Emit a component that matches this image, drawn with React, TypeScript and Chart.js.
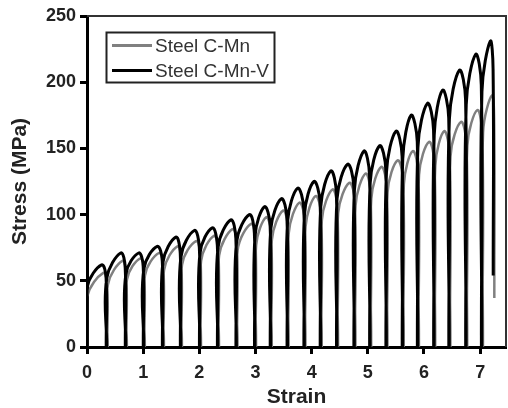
import React, { useEffect, useRef } from "react";
import { Chart, registerables } from "chart.js";

Chart.register(...registerables);

const seriesLabels = ["Steel C-Mn", "Steel C-Mn-V"];
const xTickValues = [0, 1, 2, 3, 4, 5, 6, 7];
const yTickValues = [0, 50, 100, 150, 200, 250];

// Steel C-Mn-V (black)
const blackUnload = [0.34, 0.68, 1.0, 1.34, 1.66, 2.0, 2.32, 2.65, 2.98, 3.26, 3.56, 3.86, 4.15, 4.44, 4.75, 5.03, 5.32, 5.61, 5.88, 6.17, 6.44, 6.74, 7.02, 7.23];
const blackPeakStrain = [0.26, 0.6, 0.92, 1.25, 1.58, 1.91, 2.23, 2.56, 2.89, 3.16, 3.46, 3.75, 4.04, 4.34, 4.64, 4.93, 5.21, 5.5, 5.77, 6.06, 6.33, 6.63, 6.92, 7.18];
const blackPeak = [62, 71, 71, 76, 83, 88, 90, 96, 100, 106, 112, 120, 125, 133, 138, 148, 152, 163, 175, 184, 194, 209, 221, 231];
const blackKnee = [45, 52, 55, 59, 64, 68, 71, 75, 79, 84, 89, 95, 100, 106, 112, 119, 124, 132, 142, 151, 160, 172, 183, 193];
const blackShoulder = [52, 60, 61, 65, 71, 75, 77, 82, 86, 92, 97, 104, 109, 116, 121, 130, 134, 144, 155, 164, 173, 187, 198, 210];
const blackEnd = 54;

// Steel C-Mn (gray)
const grayUnload = [0.36, 0.7, 1.02, 1.36, 1.68, 2.02, 2.34, 2.67, 3.0, 3.28, 3.58, 3.88, 4.17, 4.46, 4.77, 5.05, 5.34, 5.63, 5.9, 6.19, 6.46, 6.76, 7.04, 7.25];
const grayPeakStrain = [0.29, 0.63, 0.95, 1.28, 1.61, 1.94, 2.26, 2.59, 2.92, 3.19, 3.49, 3.78, 4.07, 4.37, 4.67, 4.96, 5.24, 5.53, 5.8, 6.09, 6.36, 6.66, 6.95, 7.21];
const grayPeak = [56, 65, 67, 71, 76, 80, 84, 89, 93, 98, 103, 109, 114, 119, 124, 131, 136, 141, 148, 155, 163, 170, 179, 190];
const grayKnee = [38, 47, 51, 54, 58, 62, 65, 69, 73, 77, 81, 86, 91, 96, 101, 107, 112, 117, 123, 130, 137, 144, 152, 162];
const grayShoulder = [47, 55, 57, 61, 65, 69, 72, 77, 80, 85, 89, 94, 99, 104, 109, 115, 119, 124, 130, 136, 143, 150, 158, 168];
const grayEnd = 37;

function buildCycles(
  unload: number[],
  peakStrain: number[],
  peak: number[],
  knee: number[],
  shoulder: number[],
  end: number
) {
  const pts: { x: number; y: number }[] = [];
  const n = peak.length;
  for (let i = 0; i < n; i++) {
    const start = i === 0 ? 0 : unload[i - 1] + 0.01;
    pts.push({ x: start, y: 0 });
    pts.push({ x: start + 0.002, y: knee[i] });
    pts.push({ x: peakStrain[i], y: peak[i] });
    pts.push({ x: unload[i], y: shoulder[i] });
    pts.push({ x: unload[i] + 0.002, y: i === n - 1 ? end : 0 });
  }
  return pts;
}

const FONT = "'Liberation Sans', Arial, Helvetica, sans-serif";

const decorPlugin = {
  id: "decor",
  afterDraw(chart: any) {
    const { ctx, chartArea: a } = chart;
    ctx.save();
    // top & right frame
    ctx.strokeStyle = "#333";
    ctx.lineWidth = 2;
    ctx.beginPath();
    ctx.moveTo(a.left, a.top);
    ctx.lineTo(a.right, a.top);
    ctx.lineTo(a.right, a.bottom);
    ctx.stroke();

    // legend box
    const bx = 106.5, by = 32.5, bw = 168, bh = 50;
    ctx.strokeStyle = "#222";
    ctx.lineWidth = 2;
    ctx.strokeRect(bx, by, bw, bh);
    const ds = chart.data.datasets;
    const rows = [45.5, 70.5];
    ds.forEach((d: any, i: number) => {
      ctx.strokeStyle = d.borderColor;
      ctx.lineWidth = 3;
      ctx.beginPath();
      ctx.moveTo(112, rows[i]);
      ctx.lineTo(152, rows[i]);
      ctx.stroke();
      ctx.fillStyle = "#333";
      ctx.font = `19px ${FONT}`;
      ctx.textBaseline = "middle";
      ctx.textAlign = "left";
      ctx.fillText(d.label, 155, rows[i] + 1);
    });
    ctx.restore();
  },
};

export default function App() {
  const ref = useRef<HTMLCanvasElement>(null);
  useEffect(() => {
    if (!ref.current) return;
    const chart = new Chart(ref.current, {
      type: "line",
      data: {
        datasets: [
          {
            label: seriesLabels[0],
            data: buildCycles(grayUnload, grayPeakStrain, grayPeak, grayKnee, grayShoulder, grayEnd),
            borderColor: "#808080",
            borderWidth: 2.5,
            pointRadius: 0,
            tension: 0.4,
            borderJoinStyle: "round",
            fill: false,
            order: 2,
          },
          {
            label: seriesLabels[1],
            data: buildCycles(blackUnload, blackPeakStrain, blackPeak, blackKnee, blackShoulder, blackEnd),
            borderColor: "#000000",
            borderWidth: 3,
            pointRadius: 0,
            tension: 0.4,
            borderJoinStyle: "round",
            fill: false,
            order: 1,
          },
        ],
      },
      options: {
        responsive: false,
        animation: false,
        events: [],
        layout: { padding: { top: 16, right: 2, left: 0, bottom: 0 } },
        plugins: { legend: { display: false }, tooltip: { enabled: false } },
        scales: {
          x: {
            type: "linear",
            min: 0,
            max: 7.46,
            afterFit: (s: any) => {
              s.height = 61;
            },
            afterBuildTicks: (s: any) => {
              s.ticks = xTickValues.map((v) => ({ value: v }));
            },
            ticks: {
              stepSize: 1,
              includeBounds: false,
              padding: 8,
              color: "#222",
              font: { family: FONT, size: 18, weight: "bold" },
              maxRotation: 0,
            },
            grid: {
              drawOnChartArea: false,
              drawTicks: true,
              tickLength: 7,
              tickWidth: 3,
              tickColor: "#000",
              color: "#000",
            },
            border: { display: true, width: 3, color: "#000" },
            title: {
              display: true,
              text: "Strain",
              color: "#222",
              font: { family: FONT, size: 21, weight: "bold" },
              padding: { top: 0, bottom: -2 },
            },
          },
          y: {
            type: "linear",
            min: 0,
            max: 250,
            afterFit: (s: any) => {
              s.width = 87;
            },
            afterBuildTicks: (s: any) => {
              s.ticks = yTickValues.map((v) => ({ value: v }));
            },
            ticks: {
              stepSize: 50,
              padding: 4,
              color: "#222",
              font: { family: FONT, size: 18, weight: "bold" },
            },
            grid: {
              drawOnChartArea: false,
              drawTicks: true,
              tickLength: 7,
              tickWidth: 3,
              tickColor: "#000",
              color: "#000",
            },
            border: { display: true, width: 3, color: "#000" },
            title: {
              display: true,
              text: "Stress (MPa)",
              color: "#222",
              font: { family: FONT, size: 21, weight: "bold" },
              padding: { top: 8, bottom: 0 },
            },
          },
        },
      },
      plugins: [decorPlugin],
    } as any);
    return () => chart.destroy();
  }, []);

  return (
    <div style={{ position: "fixed", left: 0, top: 0, width: 508, height: 408, background: "#fff" }}>
      <canvas ref={ref} width={508} height={408} style={{ display: "block", width: 508, height: 408 }} />
    </div>
  );
}
